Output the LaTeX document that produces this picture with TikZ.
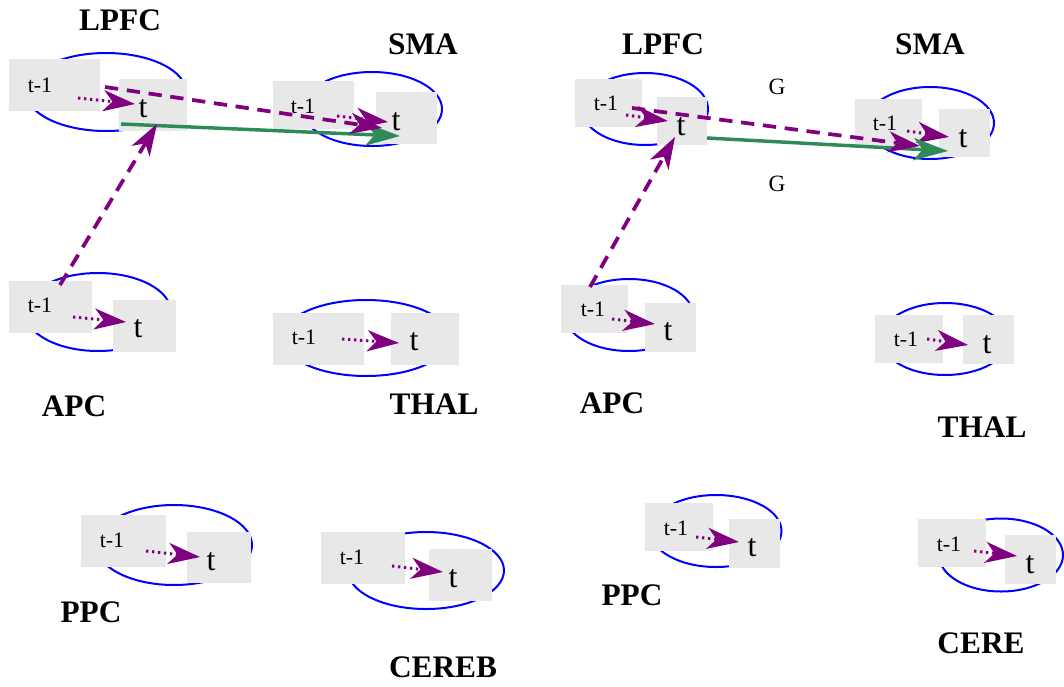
\documentclass[tikz,border=0pt]{standalone}
\usepackage{fontspec}
\setmainfont{Liberation Serif}
\usetikzlibrary{arrows.meta}
\definecolor{boxgray}{RGB}{232,232,232}
\definecolor{mypurple}{RGB}{128,0,128}
\definecolor{mygreen}{RGB}{46,139,87}
\definecolor{myblue}{RGB}{0,0,255}
\tikzset{
  gbox/.style={rectangle,fill=boxgray,draw=none,inner sep=0pt},
  ell/.style={draw=myblue,line width=1.5pt},
  tmone/.style={inner sep=0pt,font=\fontsize{16.5}{18}\selectfont},
  tbig/.style={inner sep=0pt,font=\fontsize{24}{26}\selectfont},
  region/.style={inner sep=0pt,font=\fontsize{23.5}{26}\selectfont\bfseries},
  glab/.style={inner sep=0pt,font=\fontsize{17.5}{20}\selectfont},
  selfarrow/.style={mypurple,line width=2.2pt,dash pattern=on 1.8pt off 2.7pt,
    -{Stealth[length=24pt,width=16pt,inset=7pt,line width=0pt,fill=mypurple]}},
  crossarrow/.style={mypurple,line width=2.8pt,dash pattern=on 10pt off 6.5pt,
    -{Stealth[length=24pt,width=16pt,inset=7pt,line width=0pt,fill=mypurple]}},
  greenarrow/.style={mygreen,line width=2.6pt,
    -{Stealth[length=26pt,width=17pt,inset=7pt,line width=0pt,fill=mygreen]}},
}
\newcommand\gbx[5]{\node[gbox,minimum width=#4*0.75pt,minimum height=#5*0.75pt] (#1) at (#2,#3) {};}
\begin{document}
\begin{tikzpicture}[x=0.75pt,y=-0.75pt]
\useasboundingbox[fill=white] (0,0) rectangle (1064,686);
% ---------- ellipses ----------
\draw[ell] (106,92) ellipse [x radius=80,y radius=39];
\draw[ell] (372,109) ellipse [x radius=70,y radius=37];
\draw[ell] (98,312) ellipse [x radius=73,y radius=39];
\draw[ell] (366,338) ellipse [x radius=84,y radius=38];
\draw[ell] (174,545) ellipse [x radius=78,y radius=40];
\draw[ell] (426,570.5) ellipse [x radius=78,y radius=38.5];
\draw[ell] (645,109) ellipse [x radius=63,y radius=36];
\draw[ell] (930,123) ellipse [x radius=64,y radius=36];
\draw[ell] (629,315) ellipse [x radius=64,y radius=36];
\draw[ell] (945,339) ellipse [x radius=64,y radius=36];
\draw[ell] (716,531) ellipse [x radius=65.5,y radius=36];
\draw[ell] (1001,555) ellipse [x radius=62,y radius=36.5];
% ---------- boxes ----------
\gbx{l1a}{54.5}{85}{91}{52}   \gbx{l1b}{153}{105}{68}{52}
\gbx{s1a}{313.5}{105}{81}{48} \gbx{s1b}{406.5}{118}{61}{52}
\gbx{a1a}{50.5}{307}{83}{52}  \gbx{a1b}{144.5}{326}{63}{52}
\gbx{h1a}{318.5}{339}{91}{52} \gbx{h1b}{425}{339}{68}{52}
\gbx{p1a}{123.5}{541}{85}{52} \gbx{p1b}{219}{557.5}{64}{51}
\gbx{c1a}{363}{558}{84}{52}   \gbx{c1b}{460.5}{575}{63}{52}
\gbx{l2a}{608.5}{103}{67}{48} \gbx{l2b}{682}{121}{50}{48}
\gbx{s2a}{888.5}{122.5}{67}{47} \gbx{s2b}{964.5}{133}{51}{48}
\gbx{a2a}{594.5}{309}{67}{48} \gbx{a2b}{670.5}{327.5}{51}{49}
\gbx{h2a}{909}{339}{68}{48}   \gbx{h2b}{988.5}{339.5}{51}{49}
\gbx{p2a}{679}{527}{68}{48}   \gbx{p2b}{754.5}{543.5}{51}{49}
\gbx{c2a}{952}{543}{68}{48}   \gbx{c2b}{1030.5}{559.5}{51}{49}
% ---------- box texts ----------
\node[tmone] (l1at) at (40,85) {t-1};   \node[tbig] (l1bt) at (143,109) {t};
\node[tmone] (s1at) at (303,106) {t-1}; \node[tbig] (s1bt) at (396,122) {t};
\node[tmone] (a1at) at (40,305) {t-1};  \node[tbig] (a1bt) at (138,329) {t};
\node[tmone] (h1at) at (304,337) {t-1}; \node[tbig] (h1bt) at (414,342) {t};
\node[tmone] (p1at) at (112,540) {t-1}; \node[tbig] (p1bt) at (211,562) {t};
\node[tmone] (c1at) at (352,557) {t-1}; \node[tbig] (c1bt) at (453,579) {t};
\node[tmone] (l2at) at (606,103) {t-1}; \node[tbig] (l2bt) at (681,127) {t};
\node[tmone] (s2at) at (885,123) {t-1}; \node[tbig] (s2bt) at (963,139) {t};
\node[tmone] (a2at) at (593,309) {t-1}; \node[tbig] (a2bt) at (668,332) {t};
\node[tmone] (h2at) at (906,339) {t-1}; \node[tbig] (h2bt) at (987,345) {t};
\node[tmone] (p2at) at (676,528) {t-1}; \node[tbig] (p2bt) at (752,548) {t};
\node[tmone] (c2at) at (949,544) {t-1}; \node[tbig] (c2bt) at (1030,565) {t};
% ---------- region labels ----------
\node[region] (lpfc1) at (120,20) {LPFC};
\node[region] (sma1) at (423,44) {SMA};
\node[region] (apc1) at (74,406) {APC};
\node[region] (thal1) at (434,404) {THAL};
\node[region] (ppc1) at (91,612) {PPC};
\node[region] (cereb1) at (443,667) {CEREB};
\node[region] (lpfc2) at (663,44) {LPFC};
\node[region] (sma2) at (930,44) {SMA};
\node[region] (apc2) at (612,403) {APC};
\node[region] (thal2) at (982,427) {THAL};
\node[region] (ppc2) at (632,595) {PPC};
\node[region] (cere2) at (981,643) {CERE};
\node[glab] (g1) at (777,87) {G};
\node[glab] (g2) at (777,184) {G};
% ---------- self (t-1 -> t) arrows ----------
\draw[selfarrow] ([shift={(23.5,13)}]l1a.center) -- ([shift={(-18,-1)}]l1b.center);
\draw[selfarrow] ([shift={(23.5,11)}]s1a.center) -- ([shift={(-18.5,4)}]s1b.center);
\draw[selfarrow] ([shift={(22.5,10)}]a1a.center) -- ([shift={(-18.5,-4)}]a1b.center);
\draw[selfarrow] ([shift={(23.5,0)}]h1a.center) -- ([shift={(-26,4)}]h1b.center);
\draw[selfarrow] ([shift={(22.5,10)}]p1a.center) -- ([shift={(-19,-0.5)}]p1b.center);
\draw[selfarrow] ([shift={(29,8)}]c1a.center) -- ([shift={(-17.5,-3)}]c1b.center);
\draw[selfarrow] ([shift={(17.5,12)}]l2a.center) -- ([shift={(-14,0)}]l2b.center);
\draw[selfarrow] ([shift={(18.5,8.5)}]s2a.center) -- ([shift={(-15.5,4)}]s2b.center);
\draw[selfarrow] ([shift={(17.5,10)}]a2a.center) -- ([shift={(-15.5,-3.5)}]a2b.center);
\draw[selfarrow] ([shift={(18,0)}]h2a.center) -- ([shift={(-20.5,5.5)}]h2b.center);
\draw[selfarrow] ([shift={(17,10)}]p2a.center) -- ([shift={(-15.5,-1.5)}]p2b.center);
\draw[selfarrow] ([shift={(22,8)}]c2a.center) -- ([shift={(-13.5,-3.5)}]c2b.center);
% ---------- cross-region arrows ----------
\draw[greenarrow] ([shift={(-32,19)}]l1b.center) -- ([shift={(-6.5,18)}]s1b.center);
\draw[crossarrow] ([shift={(50.5,2)}]l1a.center) -- ([shift={(-24.5,10)}]s1b.center);
\draw[crossarrow] ([shift={(9.5,-22)}]a1a.center) -- ([shift={(4,19)}]l1b.center);
\draw[greenarrow] ([shift={(25,17)}]l2b.center) -- ([shift={(-16.5,18)}]s2b.center);
\draw[crossarrow] ([shift={(23.5,5)}]l2a.center) -- ([shift={(-44.5,13)}]s2b.center);
\draw[crossarrow] ([shift={(-4.5,-22)}]a2a.center) -- ([shift={(-7,16)}]l2b.center);
\end{tikzpicture}
\end{document}
